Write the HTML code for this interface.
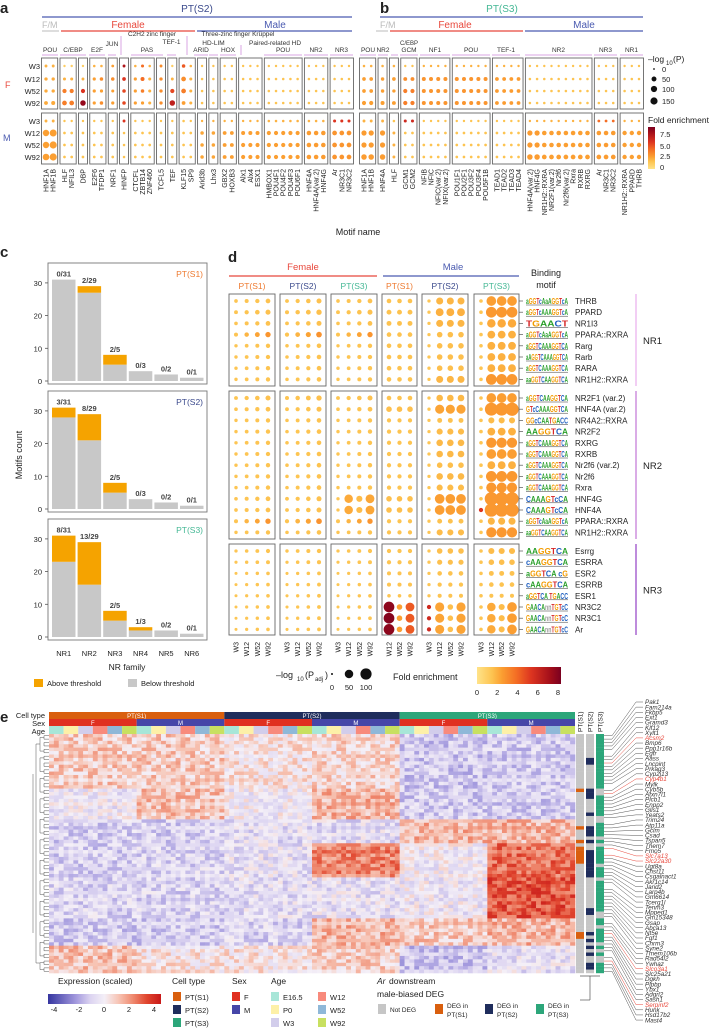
<!DOCTYPE html>
<html><head><meta charset="utf-8">
<style>
html,body{margin:0;padding:0;background:#fff;}
svg{display:block;font-family:"Liberation Sans",sans-serif;}
</style></head>
<body>
<svg id="fig" width="727" height="1028" viewBox="0 0 727 1028" xmlns="http://www.w3.org/2000/svg"></svg>
<script>
// ===== Panel a data =====
const colsA=["HNF1A","HNF1B","HLF","NFIL3","DBP","E2F6","TFDP1","NRF1","HINFP","CTCFL","ZBTB14","ZNF460","TCFL5","TEF","KLF15","SP9","Arid3b","Lhx3","GBX2","HOXB3","Alx1","Alx4","ESX1","HMBOX1","POU4F1","POU4F2","POU4F3","POU6F1","HNF4A","HNF4A(var.2)","HNF4G","Ar","NR3C1","NR3C2"];
const grpA=[0,0,1,1,2,3,3,4,5,6,6,6,7,8,9,9,10,11,12,12,13,13,13,14,14,14,14,14,15,15,15,16,16,16];
const aPF=[[6,12,12,20],[6,12,12,25],[2,8,30,45],[2,8,30,45],[2,6,30,70],[3,10,10,10],[3,15,10,15],[5,15,8,10],[6,18,15,15],[3,10,10,10],[8,25,15,10],[3,8,8,8],[6,12,12,12],[2,6,30,70],[15,45,45,20],[3,8,8,8],[2,3,3,3],[2,3,3,3],[2,3,3,3],[2,3,3,3],[2,3,3,3],[2,3,3,3],[2,3,3,3],[2,3,3,3],[2,3,3,3],[2,3,3,3],[2,3,3,3],[2,3,3,3],[2,3,3,3],[2,3,3,3],[2,3,3,3],[2,3,3,3],[2,3,3,3],[2,3,3,3]];
const aFF=[[2,2.2,2.2,2.2],[2,2.2,2.2,2.2],[1,2,3.5,3.5],[1,2,3.5,3.5],[1,2,5.5,7.8],[2,2.5,2.5,2.5],[2,3,2.5,3],[2.5,3,2.5,2.5],[7,5.5,5,5],[2,2.5,2.5,2.5],[4,4,3.5,2.5],[2,2,2,2],[3,3,3,3],[1,2,5,6.5],[4.5,3,3.5,2.5],[2,2,2,2],[1.5,1.5,1.5,1.5],[1.5,1.5,1.5,1.5],[1.5,1.5,1.5,1.5],[1.5,1.5,1.5,1.5],[1.5,1.5,1.5,1.5],[1.5,1.5,1.5,1.5],[1.5,1.5,1.5,1.5],[1.5,1.5,1.5,1.5],[1.5,1.5,1.5,1.5],[1.5,1.5,1.5,1.5],[1.5,1.5,1.5,1.5],[1.5,1.5,1.5,1.5],[1.5,1.5,1.5,1.5],[1.5,1.5,1.5,1.5],[1.5,1.5,1.5,1.5],[1.5,1.5,1.5,1.5],[1.5,1.5,1.5,1.5],[1.5,1.5,1.5,1.5]];
const aPM=[[6,110,110,120],[6,140,150,150],[2,4,4,4],[2,4,4,4],[2,4,4,4],[2,4,4,4],[2,4,4,4],[2,4,4,4],[6,3,3,3],[2,4,4,4],[2,4,4,4],[2,4,4,4],[2,4,4,4],[2,4,4,4],[3,4,4,4],[2,4,4,4],[2,15,15,15],[2,15,15,15],[2,20,22,22],[2,20,22,22],[2,25,28,28],[2,25,28,28],[2,25,28,28],[3,28,30,30],[3,28,30,30],[3,28,30,30],[3,28,30,30],[3,28,30,30],[3,38,40,40],[3,38,40,40],[3,38,40,40],[8,45,45,45],[8,45,45,45],[8,45,45,45]];
const aFM=[[2,2.5,2.5,2.5],[2,2.5,2.5,2.5],[1.5,1.5,1.5,1.5],[1.5,1.5,1.5,1.5],[1.5,1.5,1.5,1.5],[1.5,1.5,1.5,1.5],[1.5,1.5,1.5,1.5],[1.5,1.5,1.5,1.5],[5.5,1.5,1.5,1.5],[1.5,1.5,1.5,1.5],[1.5,1.5,1.5,1.5],[1.5,1.5,1.5,1.5],[1.5,1.5,1.5,1.5],[1.5,1.5,1.5,1.5],[1.5,1.5,1.5,1.5],[1.5,1.5,1.5,1.5],[2,2.3,2.3,2.3],[2,2.3,2.3,2.3],[2,2.5,2.5,2.5],[2,2.5,2.5,2.5],[2,2.5,2.5,2.5],[2,2.5,2.5,2.5],[2,2.5,2.5,2.5],[2,2.5,2.5,2.5],[2,2.5,2.5,2.5],[2,2.5,2.5,2.5],[2,2.5,2.5,2.5],[2,2.5,2.5,2.5],[2,2.6,2.6,2.6],[2,2.6,2.6,2.6],[2,2.6,2.6,2.6],[5.5,2.8,2.8,2.8],[5.5,2.8,2.8,2.8],[5.5,2.8,2.8,2.8]];
// ===== Panel b data =====
const colsB=["HNF1A","HNF1B","HNF4A","HLF","GCM1","GCM2","NFIB","NFIC","NFIC(var.2)","NFIX(var.2)","POU1F1","POU2F1","POU3F2","POU3F4","POU5F1B","TEAD1","TEAD2","TEAD3","TEAD4","HNF4A(var.2)","HNF4G","NR1H2::RXRA","NR2F1(var.2)","Nr2f6","Nr2f6(var.2)","Rxra","RXRB","RXRG","Ar","NR3C1","NR3C2","NR1H2::RXRA","PPARD","THRB"];
const grpB=[0,0,1,2,3,3,4,4,4,4,5,5,5,5,5,6,6,6,6,7,7,7,7,7,7,7,7,7,8,8,8,9,9,9];
const bPF=[[3,18,18,28],[3,18,18,28],[3,15,15,25],[3,18,12,22],[2,22,28,30],[2,22,28,30],[2,25,25,25],[2,25,25,25],[2,25,25,25],[2,25,25,25],[2,25,25,25],[2,25,25,25],[2,25,25,25],[2,25,25,25],[2,25,25,25],[2,20,20,20],[2,20,20,20],[2,20,20,20],[2,20,20,20],[2,3,3,3],[2,3,3,3],[2,3,3,3],[2,3,3,3],[2,3,3,3],[2,3,3,3],[2,3,3,3],[2,3,3,3],[2,3,3,3],[2,3,3,3],[2,3,3,3],[2,3,3,3],[2,3,3,3],[2,3,3,3],[2,3,3,3]];
const bFF=[[2,2.5,2.5,2.5],[2,2.5,2.5,2.5],[2,2.5,2.5,2.5],[2,2.5,2.5,2.5],[1.5,3,3.5,3.5],[1.5,3,3.5,3.5],[2,2.8,2.8,2.8],[2,2.8,2.8,2.8],[2,2.8,2.8,2.8],[2,2.8,2.8,2.8],[2,2.8,2.8,2.8],[2,2.8,2.8,2.8],[2,2.8,2.8,2.8],[2,2.8,2.8,2.8],[2,2.8,2.8,2.8],[2,2.6,2.6,2.6],[2,2.6,2.6,2.6],[2,2.6,2.6,2.6],[2,2.6,2.6,2.6],[1.5,1.5,1.5,1.5],[1.5,1.5,1.5,1.5],[1.5,1.5,1.5,1.5],[1.5,1.5,1.5,1.5],[1.5,1.5,1.5,1.5],[1.5,1.5,1.5,1.5],[1.5,1.5,1.5,1.5],[1.5,1.5,1.5,1.5],[1.5,1.5,1.5,1.5],[1.5,1.5,1.5,1.5],[1.5,1.5,1.5,1.5],[1.5,1.5,1.5,1.5],[1.5,1.5,1.5,1.5],[1.5,1.5,1.5,1.5],[1.5,1.5,1.5,1.5]];
const bPM=[[6,60,60,70],[6,60,60,70],[6,60,60,70],[3,6,6,6],[8,4,4,4],[8,4,4,4],[2,4,4,4],[2,4,4,4],[2,4,4,4],[2,4,4,4],[2,4,4,4],[2,4,4,4],[2,4,4,4],[2,4,4,4],[2,4,4,4],[2,4,4,4],[2,4,4,4],[2,4,4,4],[2,4,4,4],[2,60,60,70],[2,60,60,70],[2,40,40,45],[2,40,40,45],[2,40,40,45],[2,40,40,45],[2,40,40,45],[2,40,40,45],[2,40,40,45],[5,40,40,45],[5,40,40,45],[5,40,40,45],[2,35,35,35],[2,35,35,35],[2,35,35,35]];
const bFM=[[2,2.6,2.6,2.6],[2,2.6,2.6,2.6],[2,2.6,2.6,2.6],[1.5,2,2,2],[6,1.5,1.5,1.5],[6,1.5,1.5,1.5],[1.5,1.5,1.5,1.5],[1.5,1.5,1.5,1.5],[1.5,1.5,1.5,1.5],[1.5,1.5,1.5,1.5],[1.5,1.5,1.5,1.5],[1.5,1.5,1.5,1.5],[1.5,1.5,1.5,1.5],[1.5,1.5,1.5,1.5],[1.5,1.5,1.5,1.5],[1.5,1.5,1.5,1.5],[1.5,1.5,1.5,1.5],[1.5,1.5,1.5,1.5],[1.5,1.5,1.5,1.5],[2,2.6,2.6,2.6],[2,2.6,2.6,2.6],[2,2.5,2.5,2.5],[2,2.5,2.5,2.5],[2,2.5,2.5,2.5],[2,2.5,2.5,2.5],[2,2.5,2.5,2.5],[2,2.5,2.5,2.5],[2,2.5,2.5,2.5],[4,2.6,2.6,2.6],[4,2.6,2.6,2.6],[4,2.6,2.6,2.6],[2,2.5,2.5,2.5],[2,2.5,2.5,2.5],[2,2.5,2.5,2.5]];
// ===== Panel c data =====
const nrFamilies=["NR1","NR2","NR3","NR4","NR5","NR6"];
const cBelowS1=[31,27,5,3,2,1], cAboveS1=[0,2,3,0,0,0], cLabS1=["0/31","2/29","2/5","0/3","0/2","0/1"];
const cBelowS2=[28,21,5,3,2,1], cAboveS2=[3,8,3,0,0,0], cLabS2=["3/31","8/29","2/5","0/3","0/2","0/1"];
const cBelowS3=[23,16,5,2,2,1], cAboveS3=[8,13,3,1,0,0], cLabS3=["8/31","13/29","2/5","1/3","0/2","0/1"];
const cTicks=[0,10,20,30];
// ===== Panel d data =====
const dNames=["THRB","PPARD","NR1I3","PPARA::RXRA","Rarg","Rarb","RARA","NR1H2::RXRA","NR2F1 (var.2)","HNF4A (var.2)","NR4A2::RXRA","NR2F2","RXRG","RXRB","Nr2f6 (var.2)","Nr2f6","Rxra","HNF4G","HNF4A","PPARA::RXRA","NR1H2::RXRA","Esrrg","ESRRA","ESR2","ESRRB","ESR1","NR3C2","NR3C1","Ar"];
const dLogos=["aGGTcAaAGGTcA","aGGTcAAAGGTcA","TGAACT","aGGTcAaAGGTcA","aGGTCAAAGGTCA","aAGGTCAAAGGTCA","aGGTCAAAGGTCA","aaGGTCAAGGTCA","aGGTCAAGGTCA","GTcCAAAGGTCA","GGcCAATGACC","AAGGTCA","aGGTCAAAGGTCA","aGGTCAAAGGTCA","aGGTCAAAGGTCA","aGGTCAAAGGTCA","aGGTCAAAGGTCA","CAAAGTcCA","CAAAGTcCA","aGGTcAaAGGTcA","aaGGTCAAGGTCA","AAGGTCA","cAAGGTCA","aGGTCA cG","cAAGGTCA","aGGTCA TGACC","GAACAnnTGTcC","GAACAnnTGTcC","GAACAnnTGTcC"];
const dFam=[0,0,0,0,0,0,0,0,1,1,1,1,1,1,1,1,1,1,1,1,1,2,2,2,2,2,2,2,2];
const dF=[8,10,8,12,6,6,6,6,10,8,6,6,6,6,6,6,6,8,8,12,6,5,4,3,3,3,3,3,3];
const dFS3=[null,null,null,null,null,null,null,null,null,null,null,null,null,null,null,null,null,[2,50,20,55],[2,50,20,55],null,null,null,null,null,null,null,null,null,null];
const dS1=[[8,8,8],[10,10,10],[10,10,10],[8,8,8],[8,8,8],[8,8,8],[8,8,8],[8,8,8],[8,8,8],[15,15,15],[6,6,6],[6,6,6],[6,6,6],[6,6,6],[6,6,6],[6,6,6],[6,6,6],[15,15,15],[15,15,15],[6,6,6],[6,6,6],[6,6,6],[6,6,6],[5,5,5],[5,5,5],[3,3,3],[90,15,55],[90,15,55],[90,15,55]];
const dS2=[[2,30,30,30],[2,40,40,40],[2,30,30,30],[2,15,15,15],[2,15,15,15],[2,15,15,15],[2,15,15,15],[2,30,30,30],[2,25,25,25],[2,60,60,60],[2,10,10,10],[2,20,20,20],[2,25,25,25],[2,25,25,25],[2,15,15,15],[2,25,25,25],[2,20,20,20],[2,70,70,70],[2,70,70,70],[2,10,10,10],[2,20,20,20],[2,15,15,15],[2,12,12,12],[2,8,8,8],[2,6,6,6],[2,5,5,5],[6,60,15,60],[6,60,15,60],[6,60,15,60]];
const dS3=[[3,70,70,70],[3,90,90,90],[3,50,50,50],[3,40,40,40],[3,40,40,40],[3,40,40,40],[3,40,40,40],[3,90,90,90],[3,70,70,70],[3,140,140,150],[3,20,20,20],[3,40,40,40],[3,80,80,80],[3,70,70,70],[3,40,40,40],[3,90,90,90],[3,80,80,80],[3,150,150,150],[6,150,150,150],[3,30,30,30],[3,80,80,80],[3,20,20,20],[3,15,15,15],[3,10,10,10],[3,8,8,8],[3,5,5,5],[3,50,20,70],[3,50,20,70],[3,50,20,70]];
const dFeS1=[null,null,null,null,null,null,null,null,null,null,null,null,null,null,null,null,null,null,null,null,null,null,null,null,null,null,[8,2.5,4.5],[8.2,2.5,4.5],[8,2.5,4.5]];
const dFeS2W3=[null,null,null,null,null,null,null,null,null,null,null,null,null,null,null,null,null,null,null,null,null,null,null,null,null,null,6,6,6];
// ===== Panel e data =====
const hmGroupRows=[16,9,7,10,12,8,8];
const hmS1F=[0.8,-0.3,-0.9,-0.9,-0.8,-1,1.0];
const hmS1M=[0.8,1.0,-0.9,-0.8,-0.8,-1,0.3];
const hmS2F=[0.3,-0.2,-0.6,-0.5,-0.6,-0.8,0.3];
const hmS2M=[0.6,1.2,-0.6,2.0,-0.5,1.2,0.7];
const hmS3F=[-1.1,-1.0,1.2,-0.2,-0.3,0.8,-1.2];
const hmS3M=[-1.0,-1.0,1.2,2.4,2.8,1.2,-0.5];
const hmNoise=[0.5,-0.7,0.2,-0.3,0.9,-0.5,0,0.6,-0.9,0.3,-0.1,0.7,-0.6,0.1,-0.3,0.8,-0.8];
const annS1Rows=[16,27,31,33,34,35,36,37,58,59];
const annS2Rows=[7,8,16,17,18,23,27,28,29,31,34,35,36,37,38,39,40,41,51,52,58,60,62,64,67,68];
const annS3Gray=[16,17,24,25,30,32,38,42,52,53,56,61,63,65,66];
const genes=["Pak1","Fam214a","Fkbp5","Ext1","Gramd3","Klf12","Xylt1","Acsm2","Bmp6","Ppp1r16b","Egfr","Aass","Lncpint","Prkag3","Cyp2j13","Cyp4b1","Mylk","Cyb5b","Atxn7l1","Plcb1","Enpp2","Glis1","Yeats2","Trim24","Atp11a","Gclm","Csad","Tspan5","Them7","Fmo5","Slc7a13","Slc22a30","Ugt8a","Chst11","Csgalnact1","Akr1c14","Jarid2","Larp4b","Gm6614","Tcerg1l","Tenm3","Mpped1","Gm15348","Gsap","Abca13","Nt5e","Fgf1","Chrm3","Syne2","Tmem106b","Rad54l2","Ywhaz","Slco3a1","Slc25a21","Dgkh","Plpbp","Ybx1","Adgrl2","Sash1","Serpinf2","Hunk","Hsd17b2","Mast4"];
const redGenes=["Acsm2","Cyp4b1","Slc7a13","Slc22a30","Slco3a1","Serpinf2"];

// ===== helpers =====
const NS='http://www.w3.org/2000/svg';
const svg=document.getElementById('fig');
function mk(tag,attrs,parent){const e=document.createElementNS(NS,tag);for(const k in attrs)e.setAttribute(k,attrs[k]);(parent||svg).appendChild(e);return e;}
function T(x,y,s,size,o,name){o=o||{};const e=mk('text',{x:x,y:y,'font-size':size,fill:o.fill||'#222','text-anchor':o.anchor||'start'});
 if(o.italic)e.setAttribute('font-style','italic'); if(o.bold)e.setAttribute('font-weight','bold');
 if(o.rot)e.setAttribute('transform','rotate('+o.rot+' '+x+' '+y+')');
 e.textContent=s;
 
 
 return e;}
function L(x1,y1,x2,y2,c,w,name){const e=mk('line',{x1:x1,y1:y1,x2:x2,y2:y2,stroke:c,'stroke-width':w||1});
 
 
 return e;}
function R(x,y,w,h,fill,name,stroke){const e=mk('rect',{x:x,y:y,width:w,height:h,fill:fill});if(stroke){e.setAttribute('stroke',stroke);e.setAttribute('stroke-width',1);}
 
 
 return e;}
function lerpC(a,b,t){const pa=[1,3,5].map(i=>parseInt(a.substr(i,2),16)),pb=[1,3,5].map(i=>parseInt(b.substr(i,2),16));return 'rgb('+pa.map((v,i)=>Math.round(v+(pb[i]-v)*t)).join(',')+')';}
function ramp(stops,v){if(v<=stops[0][0])return stops[0][1];for(let i=1;i<stops.length;i++){if(v<=stops[i][0]){const t=(v-stops[i-1][0])/(stops[i][0]-stops[i-1][0]);return lerpC(stops[i-1][1],stops[i][1],t);}}return stops[stops.length-1][1];}
const feStops=[[0,'#ffe38a'],[1.5,'#fdc451'],[2.5,'#fb9f32'],[4,'#f46d24'],[5.5,'#dc3420'],[7.5,'#a00d1a'],[8.5,'#7a0020']];
function feCol(v){return ramp(feStops,v);}
const hmStops=[[-4,'#3535a0'],[-2,'#a49ade'],[-1,'#dcd4f1'],[0,'#f4eff7'],[1,'#f7c4b4'],[2,'#ef8a70'],[3,'#e0452e'],[4,'#c81818']];
function hmCol(v){return ramp(hmStops,v);}
const RED='#e8483c',BLUE='#4a5ab0',C1='#ee7a30',C2='#3b4a8c',C3='#45b895',PUR='#d9a6e3';
function dot(cx,cy,r,fill,name){const e=mk('circle',{cx:cx,cy:cy,r:r,fill:fill});
 
 
 return e;}

// ===== Panel a & b =====
T(0,13,'a',15,{bold:true},'panel-a-label');
T(380,13,'b',15,{bold:true},'panel-b-label');
T(197,12,'PT(S2)',10,{fill:C2,anchor:'middle'},'panel-a-title');
L(42,17,352,17,BLUE,1.2,'pt-s2-rule');
T(502,12,'PT(S3)',10,{fill:C3,anchor:'middle'},'panel-b-title');
L(380,17,643,17,BLUE,1.2,'pt-s3-rule');
T(42,28,'F/M',9,{fill:'#bbb'},'fm-label-a');
L(42,31,59,31,'#bbb',1,'fm-rule-a');
T(128,28,'Female',10,{fill:RED,anchor:'middle'},'female-label-a');
L(61,31,195,31,RED,1.2,'female-rule-a');
T(275,28,'Male',10,{fill:BLUE,anchor:'middle'},'male-label-a');
L(197,31,352,31,BLUE,1.2,'male-rule-a');
T(380,28,'F/M',9,{fill:'#bbb'},'fm-label-b');
L(376,31,388,31,'#bbb',1,'fm-rule-b');
T(455,28,'Female',10,{fill:RED,anchor:'middle'},'female-label-b');
L(390,31,523,31,RED,1.2,'female-rule-b');
T(584,28,'Male',10,{fill:BLUE,anchor:'middle'},'male-label-b');
L(525,31,643,31,BLUE,1.2,'male-rule-b');

const rowsW=['W3','W12','W52','W92'];
function dotPanel(cols,grp,PF,FF,PM,FM,x0,x1,prefix){
 const n=cols.length;let nb=0;for(let i=1;i<n;i++)if(grp[i]!==grp[i-1])nb++;
 const within=7.2;const between=((x1-x0)-(n-1-nb)*within)/nb;
 const xs=[];let x=x0;for(let i=0;i<n;i++){if(i>0)x+= (grp[i]!==grp[i-1])?between:within;xs.push(x);}
 const fY=[66,79,91,103],mY=[121,133,145,157];
 let s=0;for(let i=1;i<=n;i++){if(i===n||grp[i]!==grp[s]){const bx=xs[s]-4.5,bw=xs[i-1]-xs[s]+9;
   const b1=mk('rect',{x:bx,y:58,width:bw,height:51,fill:'none',stroke:'#666','stroke-width':0.9});
   
   
   const b2=mk('rect',{x:bx,y:113,width:bw,height:51,fill:'none',stroke:'#666','stroke-width':0.9});
   
   
   s=i;}}
 for(let c=0;c<n;c++){
  for(let r=0;r<4;r++){
   dot(xs[c],fY[r],0.9+Math.sqrt(PF[c][r])*0.22,feCol(FF[c][r]),prefix+'-dot-female');
   dot(xs[c],mY[r],0.9+Math.sqrt(PM[c][r])*0.22,feCol(FM[c][r]),prefix+'-dot-male');
  }
  T(xs[c]+2.5,169,cols[c],7,{anchor:'end',rot:-90},prefix+'-motif-label');
 }
 return xs;
}
const xsA=dotPanel(colsA,grpA,aPF,aFF,aPM,aFM,46,349,'a');
const xsB=dotPanel(colsB,grpB,bPF,bFF,bPM,bFM,364,639,'b');
[66,79,91,103].forEach((y,i)=>T(40,y+3,rowsW[i],7.5,{anchor:'end'},'row-label-female'));
[121,133,145,157].forEach((y,i)=>T(40,y+3,rowsW[i],7.5,{anchor:'end'},'row-label-male'));
T(5,88,'F',9,{fill:RED},'sex-f-label');
T(3,141,'M',9,{fill:BLUE},'sex-m-label');
function fam(xa,xb,y,label,name,ly){T((xa+xb)/2,y,label,6.5,{anchor:'middle',fill:'#333'},name);L(xa,ly||55,xb,ly||55,PUR,1,name+'-rule');}
fam(42,58,52,'POU','fam-pou-a');fam(60,86,52,'C/EBP','fam-cebp');fam(89,105,52,'E2F','fam-e2f');fam(108,116,46,'JUN','fam-jun');
fam(131,163,52,'PAS','fam-pas');fam(167,176,44,'TEF-1','fam-tef1-a');
fam(194,208,52,'ARID','fam-arid');fam(209,218,45,'HD-LIM','fam-hdlim');fam(220,236,52,'HOX','fam-hox');
fam(264,302,52,'POU','fam-pou2-a');fam(304,328,52,'NR2','fam-nr2-a');fam(330,353,52,'NR3','fam-nr3-a');
T(152,36,'C2H2 zinc finger',6.5,{anchor:'middle',fill:'#333'},'fam-c2h2');L(121,36,121,55,PUR,1,'c2h2-rule');
T(238,36,'Three-zinc finger Krüppel',6.5,{anchor:'middle',fill:'#333'},'fam-krueppel');L(187,36,187,55,PUR,1,'krueppel-rule');
T(275,45,'Paired-related HD',6.5,{anchor:'middle',fill:'#333'},'fam-paired');L(241,45,241,55,PUR,1,'paired-rule');
fam(360,376,52,'POU','fam-pou-b');fam(378,388,52,'NR2','fam-nr2-b1');fam(391,398,52,'','fam-hlf-b');
fam(400,418,52,'GCM','fam-gcm');T(409,45,'C/EBP',6,{anchor:'middle',fill:'#333'},'fam-cebp-b');
fam(420,450,52,'NF1','fam-nf1');fam(452,490,52,'POU','fam-pou3-b');fam(492,520,52,'TEF-1','fam-tef1-b');
fam(525,592,52,'NR2','fam-nr2-b');fam(594,617,52,'NR3','fam-nr3-b');fam(620,643,52,'NR1','fam-nr1-b');
T(358,235,'Motif name',9,{anchor:'middle'},'x-axis-title-ab');
T(648,62,'–log',8.5,{},'p-legend-title');T(666,65,'10',6,{},'p-legend-sub');T(673,62,'(P)',8.5,{},'p-legend-paren');
[[0,69],[50,79],[100,89],[150,101]].forEach(v=>{dot(654,v[1],0.9+Math.sqrt(v[0])*0.22,'#111','p-legend-dot');T(662,v[1]+3,String(v[0]),7.5,{},'p-legend-value');});
T(648,123,'Fold enrichment',8.5,{},'fe-legend-title-ab');
(function(){const g=mk('defs',{});const lg=mk('linearGradient',{id:'gFE',x1:0,y1:1,x2:0,y2:0},g);
 [0,1.5,2.5,4,5.5,7.5,8.5].forEach(v=>mk('stop',{offset:(v/8.5),'stop-color':feCol(v)},lg));
 const lg2=mk('linearGradient',{id:'gFEh',x1:0,y1:0,x2:1,y2:0},g);
 [0,1.5,2.5,4,5.5,7.5,8.5].forEach(v=>mk('stop',{offset:(v/8.5),'stop-color':feCol(v)},lg2));
 const lg3=mk('linearGradient',{id:'gHM',x1:0,y1:0,x2:1,y2:0},g);
 [-4,-2,-1,0,1,2,3,4].forEach(v=>mk('stop',{offset:((v+4)/8),'stop-color':hmCol(v)},lg3));})();
R(648,127,7,42,'url(#gFE)','fe-colorbar-ab');
[[7.5,134],[5,146],[2.5,156],[0,167]].forEach(v=>T(660,v[1]+3,v[0]===0?'0':v[0].toFixed(1),7.5,{},'fe-colorbar-tick'));

// ===== Panel c =====
T(0,257,'c',15,{bold:true},'panel-c-label');
T(22,455,'Motifs count',9,{anchor:'middle',rot:-90},'y-axis-title-c');
function barPanel(top,below,above,labs,title,tcol,idx){
 const bot=top+118,unit=3.27;
 const fr=mk('rect',{x:48,y:top,width:159,height:121,fill:'none',stroke:'#777','stroke-width':0.9});
 
 
 cTicks.forEach(t=>{const y=bot-t*unit;T(42,y+3,String(t),7.5,{anchor:'end'},'y-tick-label-c');L(45,y,48,y,'#555',0.8,'y-tick-c');});
 nrFamilies.forEach((f,i)=>{const x=52+i*25.6,w=23.5;
  const hb=below[i]*unit,ha=above[i]*unit;
  const b=mk('rect',{x:x,y:bot-hb,width:w,height:hb,fill:'#c8c8c8'});
  
  
  if(above[i]>0){const a=mk('rect',{x:x,y:bot-hb-ha,width:w,height:ha,fill:'#f5a300'});
   
   }
  T(x+w/2,bot-hb-ha-3,labs[i],7.5,{anchor:'middle',bold:true,fill:'#444'},'bar-count-label');
 });
 T(203,top+14,title,8.5,{anchor:'end',fill:tcol},'bar-panel-title');
}
barPanel(263,cBelowS1,cAboveS1,cLabS1,'PT(S1)',C1,1);
barPanel(391,cBelowS2,cAboveS2,cLabS2,'PT(S2)',C2,2);
barPanel(519,cBelowS3,cAboveS3,cLabS3,'PT(S3)',C3,3);
nrFamilies.forEach((f,i)=>T(63.7+i*25.6,656,f,7.5,{anchor:'middle'},'x-tick-label-c'));
T(127,670,'NR family',8.5,{anchor:'middle'},'x-axis-title-c');
R(34,679,9,8,'#f5a300','legend-above-swatch');T(47,686,'Above threshold',7.5,{},'legend-above-label');
R(128,679,9,8,'#c8c8c8','legend-below-swatch');T(141,686,'Below threshold',7.5,{},'legend-below-label');

// ===== Panel d =====
T(228,262,'d',15,{bold:true},'panel-d-label');
T(303,270,'Female',9.5,{anchor:'middle',fill:RED},'female-label-d');L(229,276,377,276,RED,1.2,'female-rule-d');
T(453,270,'Male',9.5,{anchor:'middle',fill:BLUE},'male-label-d');L(383,276,519,276,BLUE,1.2,'male-rule-d');
T(546,276,'Binding',9,{anchor:'middle'},'binding-motif-title');T(546,288,'motif',9,{anchor:'middle'},'binding-motif-title2');
const dGroups=[{x0:229,x1:275,t:'PT(S1)',c:C1,n:4},{x0:280,x1:326,t:'PT(S2)',c:C2,n:4},{x0:331,x1:377,t:'PT(S3)',c:C3,n:4},{x0:382,x1:417,t:'PT(S1)',c:C1,n:3},{x0:422,x1:468,t:'PT(S2)',c:C2,n:4},{x0:474,x1:519,t:'PT(S3)',c:C3,n:4}];
const famBox=[[294,386],[391,539],[544,635]];
const famStart=[301,398,551];
const famIdx=[0,8,21];
dGroups.forEach((g,gi)=>{T((g.x0+g.x1)/2,289,g.t,8.5,{anchor:'middle',fill:g.c},'group-label-d');
 famBox.forEach(fb=>{const r=mk('rect',{x:g.x0,y:fb[0],width:g.x1-g.x0,height:fb[1]-fb[0],fill:'none',stroke:'#666','stroke-width':0.9});
  
  });
 const wk=g.n===4?['W3','W12','W52','W92']:['W12','W52','W92'];
 const step=(g.x1-g.x0-14)/(g.n-1);
 wk.forEach((w,k)=>T(g.x0+7+k*step+2.5,642,w,7,{anchor:'end',rot:-90},'x-tick-label-d'));
});
const dR=p=>1+Math.sqrt(p)*0.46;
const dFeDefault=p=>1.4+Math.min(p,80)/80*1.3;
dNames.forEach((nm,i)=>{
 const f=dFam[i];const y=famStart[f]+(i-famIdx[f])*11.2;
 dGroups.forEach((g,gi)=>{const step=(g.x1-g.x0-14)/(g.n-1);
  for(let k=0;k<g.n;k++){const x=g.x0+7+k*step;let p,fe;
   if(gi<3){ if(gi===2&&dFS3[i]){p=dFS3[i][k];} else {p=dF[i]*[0.4,0.6,0.8,1.1][k]*(gi===1?1.2:1);} fe=dFeDefault(p)+(i===3||i===19?0.4*k:0);}
   else if(gi===3){p=dS1[i][k];fe=dFeS1[i]?dFeS1[i][k]:dFeDefault(p);}
   else if(gi===4){p=dS2[i][k];fe=(k===0&&dFeS2W3[i])?dFeS2W3[i]:dFeDefault(p);}
   else {p=dS3[i][k];fe=(k===0&&i===18)?5.5:dFeDefault(p);}
   dot(x,y,dR(p),feCol(fe),'dot-d-'+nm.replace(/[^A-Za-z0-9]/g,''));
  }});
 L(519,y,523,y,'#555',0.7,'row-tick-d');
 const lg=mk('text',{x:526,y:y+3,'font-size':8,'font-weight':'bold',textLength:42,lengthAdjust:'spacingAndGlyphs'});
 
 
 const colMap={A:'#2ca02c',a:'#2ca02c',C:'#1f5fbf',c:'#1f5fbf',G:'#f29b00',g:'#f29b00',T:'#d62728',t:'#d62728',n:'#999',' ':'#fff'};
 for(const ch of dLogos[i]){const ts=mk('tspan',{fill:colMap[ch]||'#999'},lg);ts.textContent=ch;}
 L(526,y+4,568,y+4,'#333',0.5,'logo-baseline');
 T(575,y+3,nm,8,{},'motif-name-d');
});
[['NR1',294,386,'#eab4ee'],['NR2',391,539,'#c77fd8'],['NR3',544,635,'#9b4fc9']].forEach(v=>{L(636,v[1],636,v[2],v[3],1.3,'family-rule-'+v[0]);T(643,(v[1]+v[2])/2+4,v[0],9.5,{},'family-label-'+v[0]);});
T(276,678,'–log',9,{},'padj-legend-title');T(297,681,'10',6,{},'padj-sub');T(305,678,'(P',9,{},'padj-paren');T(315,681,'adj',6,{},'padj-sub2');T(325,678,')',9,{},'padj-close');
[[0,332],[50,349],[100,366]].forEach(v=>{dot(v[1],674,dR(v[0]),'#111','padj-legend-dot');T(v[1],690,String(v[0]),7.5,{anchor:'middle'},'padj-legend-value');});
T(393,680,'Fold enrichment',9,{},'fe-legend-title-d');
R(477,667,84,17,'url(#gFEh)','fe-colorbar-d');
[0,2,4,6,8].forEach(v=>T(477+v/8.3*84,695,String(v),7.5,{anchor:'middle'},'fe-colorbar-tick-d'));

// ===== Panel e =====
T(0,722,'e',15,{bold:true},'panel-e-label');
T(45,718,'Cell type',7.5,{anchor:'end'},'celltype-track-label');
T(45,726,'Sex',7.5,{anchor:'end'},'sex-track-label');
T(45,734,'Age',7.5,{anchor:'end'},'age-track-label');
const HX0=49,HX1=575,HY0=734,HY1=973,NC=108;
const cw=(HX1-HX0)/NC;
const nRows=hmGroupRows.reduce((a,b)=>a+b,0);const rh=(HY1-HY0)/nRows;
const ctCols=['#d95f0e','#1f2d5c','#2ca67a'],ctNames=['PT(S1)','PT(S2)','PT(S3)'];
const sexCols=['#e03020','#4646a8'];
const ageCols=['#a8e6d8','#fdf0a8','#d2cdeb','#f88a7c','#8fb8d8','#c8e060'];
for(let t=0;t<3;t++){R(HX0+t*36*cw,712,36*cw,7,ctCols[t],'celltype-bar-'+ctNames[t]);T(HX0+t*36*cw+18*cw,718,ctNames[t],6,{anchor:'middle',fill:'#fff'},'celltype-bar-label');
 for(let s=0;s<2;s++){const sx=HX0+(t*36+s*18)*cw;R(sx,719,18*cw,7,sexCols[s],'sex-bar');T(sx+9*cw,725,s?'M':'F',6,{anchor:'middle',fill:'#fff'},'sex-bar-label');
  for(let a=0;a<6;a++)R(sx+a*3*cw,726,3*cw,8,ageCols[a],'age-bar');}}
const hmBlocks=[hmS1F,hmS1M,hmS2F,hmS2M,hmS3F,hmS3M];
let r=0;
hmGroupRows.forEach((n,g)=>{for(let k=0;k<n;k++,r++){for(let c=0;c<NC;c++){const b=Math.floor(c/18);
 const v=hmBlocks[b][g]+hmNoise[(r*5+c*3+((r*c)%7))%17];
 const cell=mk('rect',{x:HX0+c*cw,y:HY0+r*rh,width:cw+0.3,height:rh+0.3,fill:hmCol(v)});
 
 }}});
for(let i=0;i<nRows;i+=2){const y1=HY0+(i+0.5)*rh,y2=HY0+(i+1.5)*rh;L(44,y1,HX0,y1,'#555',0.5,'dendro-leaf');L(44,y2,HX0,y2,'#555',0.5,'dendro-leaf');L(44,y1,44,y2,'#555',0.5,'dendro-join');}
for(let i=0;i<nRows;i+=6){const y1=HY0+(i+1)*rh,y2=HY0+(Math.min(i+5,nRows-1))*rh;L(40,y1,44,y1,'#555',0.5,'dendro-branch');L(40,y1,40,y2,'#555',0.5,'dendro-join');L(40,y2,44,y2,'#555',0.5,'dendro-branch');}
L(36,HY0+10,36,HY1-10,'#555',0.5,'dendro-root');L(36,HY0+10,40,HY0+10,'#555',0.5,'dendro-root');L(36,HY1-10,40,HY1-10,'#555',0.5,'dendro-root');
L(33,HY0+40,33,HY1-40,'#555',0.5,'dendro-root2');
const annX=[576,586,596];
for(let i=0;i<nRows;i++){const y=HY0+i*rh;
 R(annX[0],y,8,rh+0.2,annS1Rows.includes(i)?'#d95f0e':'#c6c6c6','ann-s1-cell');
 R(annX[1],y,8,rh+0.2,annS2Rows.includes(i)?'#1f2d5c':'#c6c6c6','ann-s2-cell');
 R(annX[2],y,8,rh+0.2,annS3Gray.includes(i)?'#c6c6c6':'#2ca67a','ann-s3-cell');}
['PT(S1)','PT(S2)','PT(S3)'].forEach((s,i)=>T(annX[i]+6.5,732,s,6.5,{rot:-90},'ann-column-label'));
genes.forEach((gname,i)=>{const ly=702+i*5.13;const row=Math.min(nRows-1,Math.round(i*(nRows-1)/(genes.length-1)));const ry=HY0+(row+0.5)*rh;
 const red=redGenes.includes(gname);const col=red?'#e8483c':'#555';
 const p=mk('polyline',{points:'604,'+ry+' 612,'+ry+' 636,'+ly+' 643,'+ly,fill:'none',stroke:col,'stroke-width':0.5});
 
 
 T(645,ly+2.2,gname,6.3,{italic:true,fill:red?'#e8483c':'#333'},'gene-label');});
L(580,976,600,976,'#555',0.7,'ann-bracket');L(590,976,590,1000,'#555',0.7,'ann-bracket2');L(580,1000,590,1000,'#555',0.7,'ann-bracket3');
T(58,984,'Expression (scaled)',8.5,{},'expr-legend-title');
R(48,994,113,10,'url(#gHM)','expr-colorbar');
[-4,-2,0,2,4].forEach(v=>T(54+(v+4)/8*100,1012,String(v),7.5,{anchor:'middle'},'expr-colorbar-tick'));
T(172,984,'Cell type',8.5,{},'celltype-legend-title');
ctNames.forEach((s,i)=>{R(173,992+i*13,8,9,ctCols[i],'celltype-legend-swatch');T(185,1000+i*13,s,7.5,{},'celltype-legend-label');});
T(232,984,'Sex',8.5,{},'sex-legend-title');
['F','M'].forEach((s,i)=>{R(232,992+i*13,8,9,sexCols[i],'sex-legend-swatch');T(244,1000+i*13,s,7.5,{},'sex-legend-label');});
T(271,984,'Age',8.5,{},'age-legend-title');
['E16.5','P0','W3','W12','W52','W92'].forEach((s,i)=>{const x=i<3?271:318,y=992+(i%3)*13;R(x,y,8,9,ageCols[i],'age-legend-swatch');T(x+12,y+8,s,7.5,{},'age-legend-label');});
T(377,984,'Ar',8.5,{italic:true},'ar-legend-title');T(389,984,'downstream',8.5,{},'ar-legend-title2');T(377,997,'male-biased DEG',8.5,{},'ar-legend-title3');
[['Not DEG','#c6c6c6',378],['DEG in PT(S1)','#d95f0e',435],['DEG in PT(S2)','#1f2d5c',485],['DEG in PT(S3)','#2ca67a',536]].forEach(v=>{R(v[2],1004,8,10,v[1],'deg-legend-swatch');
 if(v[0]==='Not DEG')T(v[2]+12,1012,v[0],6.5,{},'deg-legend-label');else{T(v[2]+12,1008,'DEG in',6.5,{},'deg-legend-label');T(v[2]+12,1017,v[0].slice(7),6.5,{},'deg-legend-label2');}});
</script>
</body></html>
